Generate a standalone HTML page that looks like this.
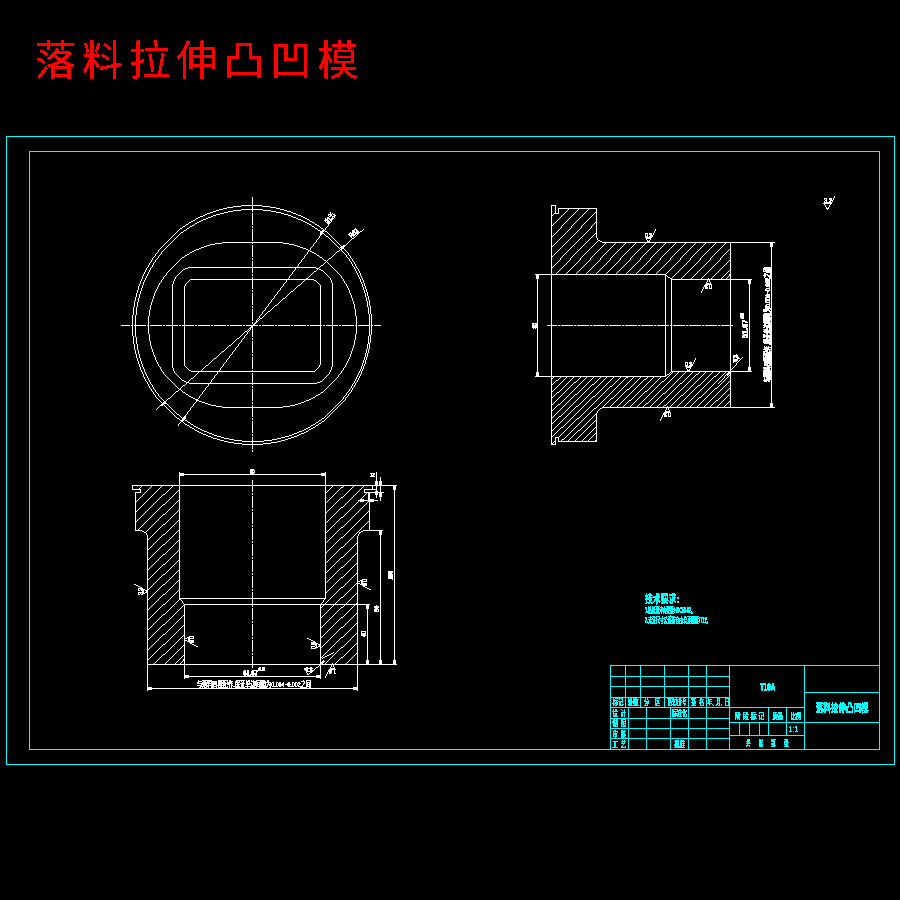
<!DOCTYPE html>
<html lang="zh-CN">
<head>
<meta charset="utf-8">
<title>落料拉伸凸凹模</title>
<style>
html,body{margin:0;padding:0;background:#000;width:900px;height:900px;overflow:hidden}
svg{display:block;position:absolute;left:0;top:0}
svg path{fill:none;stroke-width:1;stroke-linecap:square;shape-rendering:crispEdges}
svg polygon{shape-rendering:crispEdges}
svg text{font-family:"Liberation Sans","Noto Sans CJK SC",sans-serif;white-space:pre}
svg text.ttl{font-family:"Liberation Serif","Noto Serif CJK SC",serif}
</style>
</head>
<body>
<svg width="900" height="900" viewBox="0 0 900 900">
<defs>
<filter id="hard" x="-5%" y="-20%" width="110%" height="140%" color-interpolation-filters="sRGB"><feComponentTransfer><feFuncA type="discrete" tableValues="0 0 1 1 1 1"/></feComponentTransfer></filter>
<filter id="bold" x="-5%" y="-20%" width="110%" height="140%" color-interpolation-filters="sRGB"><feComponentTransfer><feFuncA type="discrete" tableValues="0 1 1 1 1"/></feComponentTransfer></filter>
</defs>
<rect width="900" height="900" fill="#000"/>
<!-- heading -->
<g filter="url(#hard)"><text x="35" y="74.5" font-size="41" fill="#f00" font-weight="400" letter-spacing="6.1">落料拉伸凸凹模</text></g>
<g transform="translate(.5 .5)">
<!-- sheet frame and title block grid -->
<path stroke="#0ff" d="M6 136h888M894 136v628M6 764h888M6 136v628M29 151h850M879 151v598M29 749h850M29 151v598M610 665h119M610 676h119M610 686h119M610 697h119M610 707h119M610 718h119M610 728h119M610 738h119M729 665h150M610 665v84M729 665v84M804 665v84M625 665v42M640 665v42M664 665v42M688 665v84M706 665v84M628 707v42M646 707v42M670 707v42M729 707h75M729 722h150M729 735h75M804 692h75M768 707v28M786 707v28M739 722v13M749 722v13M759 722v13"/>
<!-- top view -->
<path stroke="#fff" d="M371 325v9M370 335v7M369 343v5M368 349v3M367 353v3M366 357v2M365 360v3M364 364v1M363 366v2M362 369v1M361 371v2M360 374v1M359 376v1M358 378v1M357 380v1M355 383l1 -1M354 385l1 -1M352 388l2 -2M351 390l1 -1M348 394l3 -3M345 398l3 -3M323 421l22 -22M320 423l2 -2M317 425l2 -2M314 427l2 -2M312 428l1 -1M310 429l1 -1M307 431l2 -2M305 432l1 -1M303 433l1 -1M301 433h1M299 434h1M297 435h1M294 436h2M291 437h2M288 438h2M285 439h2M281 440h3M277 441h3M271 442h5M263 443h7M242 444h20M234 443h7M228 442h5M224 441h3M220 440h3M217 439h2M213 438h3M211 437h1M208 436h2M206 435h1M203 434h2M201 433h1M199 432h1M197 431h1M195 430h1M193 428l1 1M191 427l1 1M188 425l2 2M186 424l1 1M182 421l3 3M178 418l3 3M155 396l22 22M153 393l2 2M151 390l2 2M149 387l2 2M148 385l1 1M147 383l1 1M145 380l2 2M144 378l1 1M143 376l1 1M143 374v1M142 372v1M141 370v1M140 367v2M139 364v2M138 361v2M137 358v2M136 354v3M135 350v3M134 344v5M133 336v7M132 315v20M133 307v7M134 301v5M135 297v3M136 293v3M137 290v2M138 286v3M139 284v1M140 281v2M141 279v1M142 276v2M143 274v1M144 272v1M145 270v1M146 268v1M147 267l1 -1M148 265l1 -1M149 263l2 -2M151 260l1 -1M152 258l3 -3M155 254l3 -3M158 250l22 -22M181 228l2 -2M184 226l2 -2M187 224l2 -2M190 222l1 -1M192 221l1 -1M194 220l2 -2M197 218l1 -1M199 217l1 -1M201 216h1M203 215h1M205 214h1M207 213h2M210 212h2M213 211h2M216 210h2M219 209h3M223 208h3M227 207h5M233 206h7M241 205h20M262 206h7M270 207h5M276 208h3M280 209h3M284 210h2M287 211h3M291 212h1M293 213h2M296 214h1M298 215h2M301 216h1M303 217h1M305 218h1M307 219h1M309 220l1 1M311 221l1 1M313 222l2 2M316 224l1 1M318 225l3 3M322 228l3 3M326 231l22 22M348 254l2 2M350 257l2 2M352 260l2 2M354 263l1 1M355 265l1 1M356 267l2 2M358 270l1 1M359 272l1 1M360 274v1M361 276v1M362 278v1M363 280v2M364 283v2M365 286v2M366 289v2M367 292v3M368 296v3M369 300v5M370 306v7M371 314v11M369 325v10M368 336v7M367 344v4M366 349v3M365 353v3M364 357v2M363 360v2M362 363v2M361 366v2M360 369v1M359 371v1M358 373v1M357 375v1M356 377v1M355 379v1M354 381v1M352 384l1 -1M351 386l1 -1M349 389l2 -2M346 393l3 -3M343 397l3 -3M323 418l20 -20M320 420l2 -2M317 422l2 -2M314 424l2 -2M312 425l1 -1M309 427l2 -2M307 428l1 -1M305 429l1 -1M303 430l1 -1M301 431l1 -1M299 431h1M297 432h1M294 433h2M292 434h1M289 435h2M285 436h3M281 437h3M277 438h3M272 439h4M264 440h7M242 441h21M234 440h7M229 439h4M224 438h4M221 437h2M217 436h3M214 435h2M212 434h1M209 433h2M207 432h1M204 431h2M202 430h1M200 429h1M198 428h1M196 427h1M194 426h1M192 424l1 1M189 422l2 2M186 420l2 2M183 418l2 2M178 414l4 4M158 395l19 19M155 391l3 3M153 388l2 2M152 386l1 1M150 383l2 2M149 381l1 1M148 379l1 1M147 377l1 1M146 375l1 1M145 373l1 1M144 371l1 1M144 369v1M143 367v1M142 364v2M141 361v2M140 358v2M139 354v3M138 350v3M137 344v5M136 337v6M135 315v21M136 307v7M137 302v4M138 298v3M139 294v3M140 291v2M141 288v2M142 285v2M143 282v2M144 280v1M145 278v1M146 276v1M147 274v1M148 272v1M149 270v1M150 268v1M151 267l1 -1M152 265l1 -1M153 263l2 -2M155 260l3 -3M158 256l3 -3M161 252l20 -20M182 232l2 -2M185 230l2 -2M188 228l2 -2M191 226l1 -1M193 225l2 -2M196 223l1 -1M198 222l1 -1M200 221l1 -1M202 220l1 -1M204 219h1M206 218h1M208 217h2M211 216h1M213 215h2M216 214h3M220 213h3M224 212h3M228 211h4M233 210h7M241 209h21M263 210h7M271 211h4M276 212h4M281 213h2M284 214h3M288 215h2M291 216h1M293 217h2M296 218h1M298 219h2M301 220h1M303 221h1M305 222h1M307 223h1M309 224h1M311 225l1 1M313 226l2 2M316 228l2 2M319 230l2 2M322 232l4 4M327 236l19 19M346 256l3 3M349 260l2 2M351 263l1 1M352 265l2 2M354 268l1 1M355 270l1 1M356 272l1 1M357 274l1 1M358 276l1 1M359 278l1 1M360 280v1M361 282v1M362 284v2M363 287v2M364 290v2M365 293v3M366 297v3M367 301v5M368 307v6M369 314v11M231 242h43M231 407h43M148 325h.01M356 325h.01M148 316v9M149 310v5M150 305v4M151 302v2M152 299v2M153 296v2M154 293v2M155 291v1M156 289v1M157 287v1M158 285v1M159 283v1M160 282l1 -1M161 280l2 -2M163 277l3 -3M166 273l16 -16M183 257l2 -2M186 255l1 -1M188 254l2 -2M191 252l1 -1M193 251l1 -1M195 250l1 -1M197 249h1M199 248h1M201 247h2M204 246h2M207 245h2M210 244h4M215 243h6M222 242h8M274 242h8M283 243h5M289 244h4M294 245h2M297 246h2M300 247h2M303 248h2M306 249h1M308 250h1M310 251h1M312 252h1M314 253h1M316 254l1 1M318 255l2 2M321 257l3 3M325 260l16 16M341 277l2 2M343 280l1 1M344 282l2 2M346 285l1 1M347 287l1 1M348 289l1 1M349 291v1M350 293v1M351 295v2M352 298v2M353 301v2M354 304v4M355 309v6M356 316v9M356 325v8M355 334v5M354 340v4M353 345v2M352 348v2M351 351v2M350 354v2M349 357v1M348 359v1M347 361v1M346 363v1M345 365v1M343 368l1 -1M341 371l2 -2M338 375l3 -3M322 392l16 -16M319 394l2 -2M317 395l1 -1M314 397l2 -2M312 398l1 -1M310 399l1 -1M308 400l1 -1M306 400h1M304 401h1M301 402h2M298 403h2M295 404h2M290 405h4M283 406h6M274 407h8M222 407h9M216 406h5M211 405h4M208 404h2M205 403h2M202 402h2M199 401h2M197 400h1M195 399h1M193 398h1M191 397h1M189 396h1M187 394l1 1M184 392l2 2M180 389l3 3M163 373l16 16M161 370l2 2M160 368l1 1M158 365l2 2M157 363l1 1M156 361l1 1M155 359l1 1M155 357v1M154 355v1M153 352v2M152 349v2M151 346v2M150 341v4M149 334v6M148 325v8M193 267h118M193 383h118M172 288v74M332 288v74M172 284v4M173 281v2M174 279v1M175 277v1M176 276l7 -7M184 269l1 -1M186 268h1M188 267h5M311 267h4M316 268h2M319 269h1M321 270h1M323 271l7 7M330 279l1 1M331 281v1M332 283v5M332 362v4M331 367v2M330 370v1M329 372v1M321 381l7 -7M319 382l1 -1M317 382h1M311 383h5M189 383h4M186 382h2M184 381h1M182 380h1M174 372l7 7M173 370l1 1M173 368v1M172 362v5M193 279h118M193 371h118M184 288v74M320 288v74M184 286v2M185 284v1M186 283l4 -4M191 279h2M311 279h2M314 280h1M316 281l4 4M320 286v2M320 362v2M319 365v1M314 371l4 -4M311 371h2M191 371h2M189 370h1M184 365l4 4M184 362v2M156 409l4 -4M161 405l7 -7M169 398l7 -7M177 391l6 -6M184 385l7 -7M192 378l7 -7M200 371l6 -6M207 365l7 -7M215 358l7 -7M223 351l6 -6M230 345l7 -7M238 338l7 -7M246 331l6 -6M253 325l7 -7M261 318l7 -7M269 311l6 -6M276 305l7 -7M284 298l7 -7M292 291l6 -6M299 285l7 -7M307 278l7 -7M315 271l6 -6M322 265l7 -7M330 258l7 -7M338 251l6 -6M345 245l7 -7M353 238l7 -7M361 231l2 -2M178 424v1M179 423l2 -2M181 420l3 -3M184 416l3 -3M187 412l3 -3M190 408l3 -3M193 404l3 -3M196 400l3 -3M199 396l3 -3M202 392l3 -3M205 388l3 -3M208 384l3 -3M211 380l3 -3M214 376l3 -3M217 372l3 -3M220 368l3 -3M223 364l3 -3M226 360l3 -3M229 356l3 -3M232 352l3 -3M235 348l3 -3M238 344l3 -3M241 340l3 -3M244 336l3 -3M247 332l3 -3M250 328l3 -3M253 324l3 -3M256 320l3 -3M259 316l3 -3M262 312l3 -3M265 308l3 -3M268 304l3 -3M271 300l3 -3M274 296l3 -3M277 292l3 -3M280 288l3 -3M283 284l3 -3M286 280l3 -3M289 276l3 -3M292 272l3 -3M295 268l3 -3M298 264l3 -3M301 260l3 -3M304 256l3 -3M307 252l3 -3M310 248l3 -3M313 244l3 -3M316 240l3 -3M319 236l3 -3M322 232l3 -3M325 228l3 -3M328 224l3 -3M331 220l3 -3M334 216l1 -1M121 325h8M131 325h1M134 325h11M147 325h1M150 325h11M163 325h1M166 325h11M179 325h1M182 325h11M195 325h1M198 325h11M211 325h1M214 325h11M227 325h1M230 325h11M243 325h1M246 325h11M259 325h1M262 325h11M275 325h1M278 325h11M291 325h1M294 325h11M307 325h1M310 325h11M323 325h1M326 325h11M339 325h1M342 325h11M355 325h1M358 325h11M371 325h1M374 325h6M252 197v11M252 210v1M252 213v11M252 226v1M252 229v11M252 242v1M252 245v11M252 258v1M252 261v11M252 274v1M252 277v11M252 290v1M252 293v11M252 306v1M252 309v11M252 322v1M252 325v11M252 338v1M252 341v11M252 354v1M252 357v11M252 370v1M252 373v11M252 386v1M252 389v11M252 402v1M252 405v11M252 418v1M252 421v11M252 434v1M252 437v11M252 450v1"/>
<!-- section view -->
<path stroke="#fff" d="M551 205h4M555 205v8M555 213h3M558 208v5M558 208h38M596 208v29M596 237l1 1M597 239h.01M597 239l1 1M599 240h.01M599 240l1 1M601 241h.01M601 241l1 1M602 242h128M730 242v37M671 279h59M669 277l2 2M665 274l3 3M551 274h114M551 205v69M551 444h4M555 437v7M555 437h3M558 437v4M558 441h38M596 413v28M596 413l1 -1M597 411h.01M597 411l1 -1M598 410l2 -2M600 408h1M602 407h.01M602 407h128M730 371v36M671 371h59M668 374l3 -3M665 376l2 -2M551 376h114M551 376v68M551 205v239M535 274h130M535 376h130M665 274v102M671 279v92M730 279v92M671 279h80M671 371h80M537 274v102M749 279v92M771 242v165M730 242h44M730 407h44M552 215l2 -2M552 225l16 -16M552 236l9 -9M561 226l17 -17M552 246l19 -19M571 226l17 -17M552 256l29 -29M581 226l14 -14M552 267l8 -8M560 258l31 -31M591 226l4 -4M556 273l14 -14M570 258l25 -25M566 273l14 -14M580 258l18 -18M576 273l14 -14M590 258l15 -15M586 273l14 -14M600 258l15 -15M596 273l14 -14M610 258l15 -15M606 273l14 -14M620 258l15 -15M616 273l14 -14M630 258l15 -15M626 273l14 -14M640 258l15 -15M636 273l14 -14M650 258l15 -15M646 273l14 -14M660 258l15 -15M656 273l14 -14M670 258l15 -15M666 273l14 -14M680 258l15 -15M671 278l19 -19M690 258l15 -15M681 278l19 -19M700 258l15 -15M691 278l19 -19M710 258l15 -15M701 278l19 -19M720 258l9 -9M711 278l18 -18M721 278l8 -8M552 378l1 -1M552 384l4 -4M557 380l3 -3M552 391l14 -14M552 397l5 -5M558 392l15 -15M552 404l22 -22M575 382l5 -5M552 410l6 -6M559 404l27 -27M552 417l23 -23M576 394l17 -17M552 423l7 -7M560 416l32 -32M593 384l7 -7M552 430l24 -24M577 406l29 -29M552 436l9 -9M562 427l31 -31M594 396l19 -19M552 443l2 -2M559 436l18 -18M578 418l32 -32M611 386l9 -9M561 440l1 -1M563 439l31 -31M595 408l31 -31M627 377h.01M568 440l10 -10M579 430l16 -16M603 406l8 -8M612 398l21 -21M575 440l20 -20M610 406l17 -17M628 389l12 -12M582 440l13 -13M617 406l27 -27M645 379l2 -2M588 440l7 -7M623 406l6 -6M630 400l23 -23M595 440h.01M630 406l15 -15M646 391l14 -14M637 406l25 -25M663 381l9 -9M643 406l3 -3M647 403l31 -31M650 406l13 -13M664 393l21 -21M657 406l23 -23M681 383l11 -11M663 406l1 -1M665 405l31 -31M697 374l2 -2M670 406l11 -11M682 395l23 -23M677 406l21 -21M699 385l13 -13M684 406l30 -30M715 376l4 -4M690 406l9 -9M700 397l25 -25M697 406l18 -18M716 388l13 -13M704 406l25 -25M710 406l6 -6M717 400l12 -12M717 406l12 -12M724 406l5 -5M718 383l6 -6M724 376l12 -12M736 363l6 -6M730 271v2M729 274v1M725 279l3 -3M722 279h2M547 325h9M558 325h1M561 325h11M574 325h1M577 325h11M590 325h1M593 325h11M606 325h1M609 325h11M622 325h1M625 325h11M638 325h1M641 325h11M654 325h1M657 325h11M670 325h1M673 325h11M686 325h1M689 325h11M702 325h1M705 325h11M718 325h1M721 325h11"/>
<!-- front view -->
<path stroke="#fff" d="M132 485h47M179 485v113M179 598l3 3M182 602l2 2M184 604v60M147 664h37M147 536v128M147 535v1M146 534h.01M146 533v1M145 532h.01M144 532h1M143 531h.01M142 531h1M141 530h.01M135 530h6M135 492v38M135 492h5M140 489v3M132 489h8M132 485v4M325 485h47M325 485v113M323 600l2 -2M320 604l3 -3M320 604v60M320 664h37M357 536v128M357 536l1 -1M358 534h.01M358 534l1 -1M359 532h.01M359 532h1M361 531h.01M361 531h1M363 530h.01M363 530h6M369 492v38M364 492h5M364 489v3M364 489h8M372 485v4M132 485h264M147 664h249M179 472v126M325 472v126M179 598h146M184 604h185M184 604v74M320 604v74M147 536v154M357 536v154M179 474h146M184 676h136M147 688h210M367 604v60M380 530v134M394 485v179M369 530h13M376 472v25M380 477v23M366 492h17M358 500h19M364 489h11M368 493v7M139 488l2 -2M136 501l15 -15M136 511l25 -25M136 521l27 -27M164 494l8 -8M138 529l25 -25M164 504l14 -14M146 531l17 -17M164 514l14 -14M148 539l15 -15M164 524l14 -14M148 549l15 -15M164 534l14 -14M148 559l15 -15M164 544l14 -14M148 569l15 -15M164 554l14 -14M148 579l15 -15M164 564l14 -14M148 589l15 -15M164 574l14 -14M148 599l15 -15M164 584l14 -14M148 609l15 -15M164 594l14 -14M148 619l15 -15M164 604l14 -14M148 629l15 -15M164 614l15 -15M148 639l15 -15M164 624l19 -19M148 649l15 -15M164 634l19 -19M148 659l15 -15M164 644l19 -19M154 663l9 -9M164 654l19 -19M165 663l18 -18M175 663l8 -8M326 492l6 -6M326 502l15 -15M342 487l1 -1M326 512l15 -15M342 497l11 -11M326 522l15 -15M342 507l21 -21M326 532l15 -15M342 517l24 -24M326 542l15 -15M342 527l26 -26M326 552l15 -15M342 537l26 -26M326 562l15 -15M342 547l26 -26M326 572l15 -15M342 557l14 -14M326 582l15 -15M342 567l14 -14M326 592l15 -15M342 577l14 -14M321 607l20 -20M342 587l14 -14M321 617l20 -20M342 597l14 -14M321 627l20 -20M342 607l14 -14M321 637l20 -20M342 617l14 -14M321 647l20 -20M342 627l14 -14M321 657l20 -20M342 637l14 -14M325 663l16 -16M342 647l14 -14M335 663l6 -6M342 657l14 -14M346 663l10 -10M308 674l2 -2M311 672l5 -5M317 667l3 -3M322 658l1 -1M324 657l1 -1M326 656l1 -1M328 655l1 -1M330 654l1 -1M332 653l1 -1M184 656v2M183 659v1M179 664l3 -3M176 664h2M252 480v11M252 493v1M252 496v11M252 509v1M252 512v11M252 525v1M252 528v11M252 541v1M252 544v11M252 557v1M252 560v11M252 573v1M252 576v11M252 589v1M252 592v11M252 605v1M252 608v11M252 621v1M252 624v11M252 637v1M252 640v11M252 653v1M252 656v11"/>
</g>
<g transform="translate(.5 .5)">
<!-- dimension arrow heads -->
<path stroke="#fff" d="M536 275v3M537 275v3M538 275v3M536 372v3M537 372v3M538 372v3M748 280v3M749 280v3M750 280v3M748 367v3M749 367v3M750 367v3M770 243v3M771 243v3M772 243v3M770 403v3M771 403v3M772 403v3M180 473h3M180 474h3M180 475h3M321 473h3M321 474h3M321 475h3M185 675h3M185 676h3M185 677h3M316 675h3M316 676h3M316 677h3M148 687h3M148 688h3M148 689h3M353 687h3M353 688h3M353 689h3M366 605v3M367 605v3M368 605v3M366 660v3M367 660v3M368 660v3M379 531v3M380 531v3M381 531v3M379 660v3M380 660v3M381 660v3M393 486v3M394 486v3M395 486v3M393 660v3M394 660v3M395 660v3M375 481v3M376 481v3M377 481v3M375 491v3M376 491v3M377 491v3M379 481v3M380 481v3M381 481v3M379 493v3M380 493v3M381 493v3M360 499h3M360 500h3M360 501h3M370 499h3M370 500h3M370 501h3M162 405l2 -2M165 403h.01M161 405l3 -3M161 404l3 -3M341 247l2 -2M340 247h.01M341 248l3 -3M341 249l3 -3M183 420l2 -2M185 417h.01M182 420l2 -2M184 417l1 -1M182 419l1 -1M183 417l1 -1M320 232l2 -2M320 233h.01M321 232l2 -2M320 234l1 -1M322 232l1 -1M321 234l1 -1M726 374l3 -3M727 374l3 -3M727 375l3 -3M321 664l3 -3M320 664l3 -3M320 663l3 -3"/>
</g>
<g fill="#0ff" font-weight="500" filter="url(#bold)">
<text x="612.5" y="705.2" font-size="7.6" textLength="11" lengthAdjust="spacingAndGlyphs">标记</text>
<text x="627.5" y="705.2" font-size="7.6" textLength="11" lengthAdjust="spacingAndGlyphs">处数</text>
<text x="644" y="705.2" font-size="7.6" textLength="16.3" lengthAdjust="spacingAndGlyphs">分    区</text>
<text x="667.5" y="705.2" font-size="7.6" textLength="18.5" lengthAdjust="spacingAndGlyphs">更改文件号</text>
<text x="691" y="705.2" font-size="7.6" textLength="13.3" lengthAdjust="spacingAndGlyphs">签  名</text>
<text x="707.5" y="705.2" font-size="7.6" textLength="22" lengthAdjust="spacingAndGlyphs">年、月、日</text>
<text x="612.5" y="715.7" font-size="7.6" textLength="13.5" lengthAdjust="spacingAndGlyphs">设  计</text>
<text x="671.7" y="715.7" font-size="7.6" textLength="15.3" lengthAdjust="spacingAndGlyphs">标准化</text>
<text x="612.5" y="726.1" font-size="7.6" textLength="13.5" lengthAdjust="spacingAndGlyphs">制  图</text>
<text x="612.5" y="736.9" font-size="7.6" textLength="13.5" lengthAdjust="spacingAndGlyphs">审  核</text>
<text x="612.5" y="746.9" font-size="7.6" textLength="13.5" lengthAdjust="spacingAndGlyphs">工  艺</text>
<text x="674" y="746.9" font-size="7.6" textLength="11.2" lengthAdjust="spacingAndGlyphs">批准</text>
<text x="735" y="718.6" font-size="7.6" textLength="29.3" lengthAdjust="spacingAndGlyphs">阶 段 标 记</text>
<text x="772.5" y="718.6" font-size="7.6" textLength="10.7" lengthAdjust="spacingAndGlyphs">质量</text>
<text x="790.8" y="718.6" font-size="7.6" textLength="10.2" lengthAdjust="spacingAndGlyphs">比例</text>
<text x="788.8" y="732" font-size="8.4" textLength="9.4" lengthAdjust="spacingAndGlyphs">1:1</text>
<text x="745.8" y="746.1" font-size="7.6" textLength="42.7" lengthAdjust="spacingAndGlyphs">共      张      第      张</text>
<text x="760" y="690.8" font-size="11.4" textLength="15.3" lengthAdjust="spacingAndGlyphs" font-weight="700">T10A</text>
<text x="815.8" y="712.1" font-size="11.4" textLength="52.7" lengthAdjust="spacingAndGlyphs" font-weight="700">落料拉伸凸凹模</text>
<text x="645" y="602.6" font-size="11.4" textLength="34" lengthAdjust="spacingAndGlyphs" font-weight="700">技术要求:</text>
<text x="645" y="613.4" font-size="8.2" textLength="50" lengthAdjust="spacingAndGlyphs" font-weight="700">1.热处理淬火硬度HRC58-62。</text>
<text x="645" y="622.9" font-size="8.2" textLength="65.5" lengthAdjust="spacingAndGlyphs" font-weight="700">2.未注尺寸公差按自由公差精度IT12。</text>
</g>
<g fill="#fff" font-weight="500" filter="url(#bold)">
<text x="328" y="224.3" font-size="7.5" textLength="12" lengthAdjust="spacingAndGlyphs" transform="rotate(-53 328 224.3)">Ø155</text>
<text x="351.5" y="238.5" font-size="7.5" textLength="10.5" lengthAdjust="spacingAndGlyphs" transform="rotate(-41 351.5 238.5)" font-weight="700">R82</text>
<text x="536.5" y="328.5" font-size="7" textLength="5.5" lengthAdjust="spacingAndGlyphs" transform="rotate(-90 536.5 328.5)" font-weight="700">80</text>
<text x="748.3" y="338.3" font-size="9.2" textLength="18.5" lengthAdjust="spacingAndGlyphs" transform="rotate(-90 748.3 338.3)" font-weight="700">61.67</text>
<text x="744" y="319" font-size="6" textLength="6" lengthAdjust="spacingAndGlyphs" transform="rotate(-90 744 319)" font-weight="700">+0.03</text>
<text x="769.8" y="382.5" font-size="8" textLength="115" lengthAdjust="spacingAndGlyphs" transform="rotate(-90 769.8 382.5)">与落料凹模配作,保证单边间隙为0.004~0.002之间</text>
<text x="249.7" y="473.6" font-size="7" textLength="5" lengthAdjust="spacingAndGlyphs" font-weight="700">80</text>
<text x="243.3" y="676" font-size="9.2" textLength="14.5" lengthAdjust="spacingAndGlyphs" font-weight="700">61.67</text>
<text x="258" y="671.3" font-size="6" textLength="6.5" lengthAdjust="spacingAndGlyphs" font-weight="700">+0.03</text>
<text x="196.7" y="687.2" font-size="8" textLength="114.3" lengthAdjust="spacingAndGlyphs">与落料凹模配作,保证单边间隙为0.004~0.002之间</text>
<text x="393.3" y="579.5" font-size="8" textLength="8.5" lengthAdjust="spacingAndGlyphs" transform="rotate(-90 393.3 579.5)" font-weight="700">100</text>
<text x="379.3" y="612" font-size="8" textLength="6.5" lengthAdjust="spacingAndGlyphs" transform="rotate(-90 379.3 612)" font-weight="700">60</text>
<text x="366.3" y="637" font-size="8" textLength="6" lengthAdjust="spacingAndGlyphs" transform="rotate(-90 366.3 637)" font-weight="700">40</text>
<text x="370" y="476.6" font-size="5.5" textLength="5.5" lengthAdjust="spacingAndGlyphs" font-weight="700">2</text>
</g>
<!-- surface roughness marks -->
<g filter="url(#bold)">
<g transform="translate(827.5 209.5) rotate(0)"><path stroke="#fff" d="M-3.58 -6.2L0 0L7.27 -12.6M-3.58 -6.2H3.58"/><text x="-3.6" y="-6.9" font-size="6.6" fill="#fff" textLength="8" lengthAdjust="spacingAndGlyphs" font-weight="700">3.2</text></g>
<g transform="translate(648.5 242.5) rotate(0)"><path stroke="#fff" d="M-2.42 -4.2L0 0L7.15 -12.4M-2.42 -4.2H2.42"/><text x="-3.6" y="-4.9" font-size="6.6" fill="#fff" textLength="7.2" lengthAdjust="spacingAndGlyphs" font-weight="700">0.8</text></g>
<g transform="translate(708.5 279.5) rotate(180)"><path stroke="#fff" d="M-2.42 -4.2L0 0L7.15 -12.4M-2.42 -4.2H2.42"/><text x="-3.6" y="-4.9" font-size="6.6" fill="#fff" textLength="7.2" lengthAdjust="spacingAndGlyphs" font-weight="700">0.8</text></g>
<g transform="translate(688.5 371.5) rotate(0)"><path stroke="#fff" d="M-2.42 -4.2L0 0L7.15 -12.4M-2.42 -4.2H2.42"/><text x="-3.6" y="-4.9" font-size="6.6" fill="#fff" textLength="7.2" lengthAdjust="spacingAndGlyphs" font-weight="700">0.8</text></g>
<g transform="translate(667.5 407.5) rotate(180)"><path stroke="#fff" d="M-2.42 -4.2L0 0L7.15 -12.4M-2.42 -4.2H2.42"/><text x="-3.6" y="-4.9" font-size="6.6" fill="#fff" textLength="7.2" lengthAdjust="spacingAndGlyphs" font-weight="700">0.8</text></g>
<g transform="translate(739.5 358.5)"><path stroke="#fff" d="M0 0L-6.5 -3.5V4"/><text x="-1.6" y="3.2" font-size="6.6" fill="#fff" textLength="7" lengthAdjust="spacingAndGlyphs" transform="rotate(-90 -1.6 3.2)" font-weight="700">0.8</text></g>
<g transform="translate(147.5 591.5) rotate(-90)"><path stroke="#fff" d="M-2.42 -4.2L0 0L7.15 -12.4M-2.42 -4.2H2.42"/><text x="-3.6" y="-4.9" font-size="6.6" fill="#fff" textLength="7.2" lengthAdjust="spacingAndGlyphs" font-weight="700">3.2</text></g>
<g transform="translate(357.5 582.5) rotate(90)"><path stroke="#fff" d="M-2.42 -4.2L0 0L7.15 -12.4M-2.42 -4.2H2.42"/><text x="-3.6" y="-4.9" font-size="6.6" fill="#fff" textLength="7.2" lengthAdjust="spacingAndGlyphs" font-weight="700">0.8</text></g>
<g transform="translate(184.5 639.5) rotate(90)"><path stroke="#fff" d="M-2.42 -4.2L0 0L7.15 -12.4M-2.42 -4.2H2.42"/><text x="-3.6" y="-4.9" font-size="6.6" fill="#fff" textLength="7.2" lengthAdjust="spacingAndGlyphs" font-weight="700">0.8</text></g>
<g transform="translate(320.5 645.5) rotate(-90)"><path stroke="#fff" d="M-2.42 -4.2L0 0L7.15 -12.4M-2.42 -4.2H2.42"/><text x="-3.6" y="-4.9" font-size="6.6" fill="#fff" textLength="7.2" lengthAdjust="spacingAndGlyphs" font-weight="700">0.8</text></g>
<g transform="translate(332.5 664.5) rotate(180)"><path stroke="#fff" d="M-2.42 -4.2L0 0L7.15 -12.4M-2.42 -4.2H2.42"/><text x="-3.6" y="-4.9" font-size="6.6" fill="#fff" textLength="7.2" lengthAdjust="spacingAndGlyphs" font-weight="700">1.6</text></g>
<g transform="translate(308 675)"><path stroke="#fff" d="M-3.5 -6.5L0 0M-3.5 -6.5H4"/><text x="-2.5" y="-3.2" font-size="6.6" fill="#fff" textLength="7" lengthAdjust="spacingAndGlyphs" font-weight="700">0.8</text></g>
</g>
</svg>
</body>
</html>
